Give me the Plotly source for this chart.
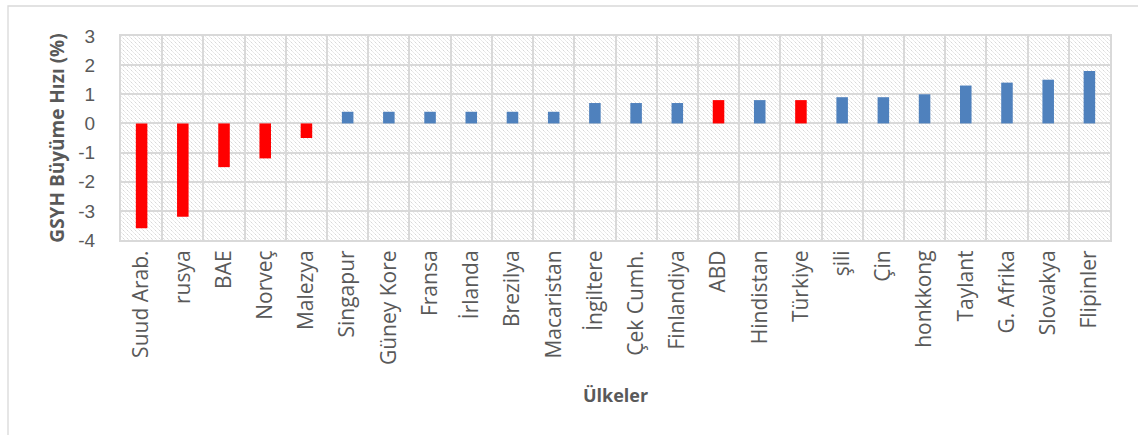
import base64
import plotly.graph_objects as go

countries = ["Suud Arab.", "rusya", "BAE", "Norveç", "Malezya", "Singapur", "Güney Kore",
             "Fransa", "İrlanda", "Brezilya", "Macaristan", "İngiltere", "Çek Cumh.",
             "Finlandiya", "ABD", "Hindistan", "Türkiye", "şili", "Çin", "honkkong",
             "Taylant", "G. Afrika", "Slovakya", "Flipinler"]
growth = [-3.6, -3.2, -1.5, -1.2, -0.5, 0.4, 0.4, 0.4, 0.4, 0.4, 0.4, 0.7, 0.7, 0.7,
          0.8, 0.8, 0.8, 0.9, 0.9, 1.0, 1.3, 1.4, 1.5, 1.8]
highlighted = ["ABD", "Türkiye"]
y_ticks = [-4, -3, -2, -1, 0, 1, 2, 3]
y_tick_text = ["-4", "-3", "-2", "-1", "0", "1", "2", "3"]

RED = "#FF0000"
BLUE = "#4F81BD"
GRID = "#D9D9D9"
TXT = "#595959"

colors = [RED if (v < 0 or c in highlighted) else BLUE for c, v in zip(countries, growth)]

W, H = 1138, 435
L, R, T, B = 121, 28, 36, 195
pw, ph = W - L - R, H - T - B

svg = (f'<svg xmlns="http://www.w3.org/2000/svg" width="{pw}" height="{ph}" viewBox="0 0 {pw} {ph}" '
       f'preserveAspectRatio="none"><defs><pattern id="p" patternUnits="userSpaceOnUse" width="4" height="4">'
       f'<path d="M-1,-1 L5,5 M-1,3 L1,5 M3,-1 L5,1" stroke="#D6D6D6" stroke-width="1" '
       f'stroke-dasharray="1.4,0.7"/></pattern></defs>'
       f'<rect width="{pw}" height="{ph}" fill="white"/><rect width="{pw}" height="{ph}" fill="url(#p)"/></svg>')
src = "data:image/svg+xml;base64," + base64.b64encode(svg.encode()).decode()

fig = go.Figure(go.Bar(x=countries, y=growth, marker=dict(color=colors, line_width=0),
                       width=0.28))

fig.update_layout(
    width=W, height=H,
    margin=dict(l=L, r=R, t=T, b=B),
    paper_bgcolor="white",
    plot_bgcolor="rgba(0,0,0,0)",
    showlegend=False,
    font=dict(family="Open Sans, Liberation Sans, sans-serif", color=TXT),
    images=[dict(source=src, xref="paper", yref="paper", x=0, y=1, sizex=1, sizey=1,
                 xanchor="left", yanchor="top", sizing="stretch", layer="below")],
    shapes=[dict(type="rect", xref="paper", yref="paper",
                 x0=(8 - L) / pw, x1=(W + 20 - L) / pw,
                 y0=-(H + 20 - T - ph) / ph, y1=1 + (T - 6) / ph,
                 line=dict(color=GRID, width=1.3), fillcolor="rgba(0,0,0,0)", layer="below")],
)

fig.update_xaxes(
    type="category", tickson="boundaries", showgrid=True, gridcolor=GRID, gridwidth=2,
    showline=True, linecolor=GRID, linewidth=2, mirror=True, ticks="",
    tickangle=-90, tickfont=dict(size=21, color=TXT),
    title=dict(text="<b>Ülkeler</b>", font=dict(size=18, color=TXT), standoff=25),
)
fig.update_yaxes(
    range=[-4, 3], tickvals=y_ticks, ticktext=y_tick_text, showgrid=True, gridcolor=GRID, gridwidth=2,
    zeroline=True, zerolinecolor=GRID, zerolinewidth=2,
    showline=True, linecolor=GRID, linewidth=2, mirror=True, ticks="",
    tickfont=dict(size=19, color=TXT, family="Liberation Sans, Open Sans, sans-serif"),
    ticklabelstandoff=20,
    title=dict(text="<b>GSYH Büyüme Hızı (%)</b>", font=dict(size=19, color=TXT), standoff=9),
)

fig.write_html("out.html")
